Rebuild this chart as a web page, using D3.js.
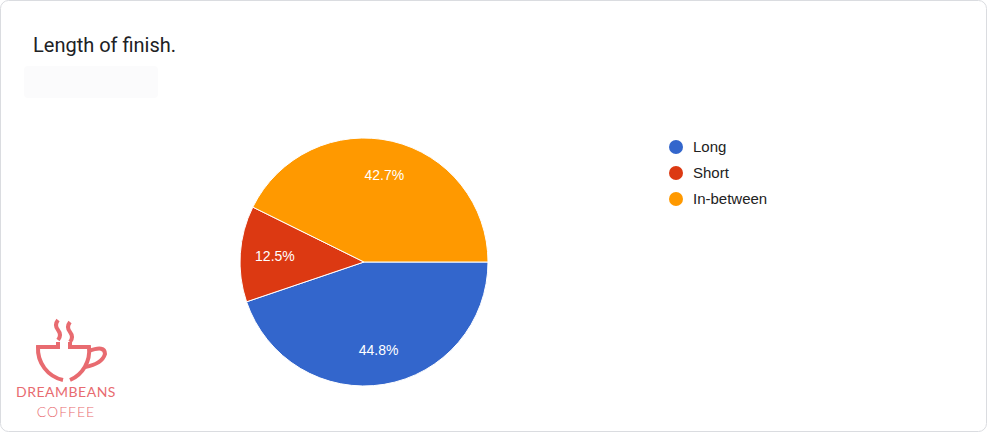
<!DOCTYPE html><html><head><meta charset="utf-8">
<script src="https://cdn.jsdelivr.net/npm/d3@7"></script>
<style>body{margin:0;background:#fff;font-family:Roboto,Arial,sans-serif}</style></head><body>
<svg id="c" width="987" height="432"></svg>
<script>
const categories=["Long","Short","In-between"];
const values=[44.8,12.5,42.7];
const colors=["#3366cc","#dc3912","#ff9900"];
const svg=d3.select("#c");
svg.append("rect").attr("x",0.5).attr("y",0.5).attr("width",986).attr("height",431).attr("rx",8).attr("fill","#fff").attr("stroke","#dadce0");
svg.append("text").attr("x",33).attr("y",52).attr("font-size",20).attr("fill","#202124").text("Length of finish.");
svg.append("rect").attr("x",24).attr("y",66).attr("width",134).attr("height",32).attr("rx",4).attr("fill","#fbfbfc");
const cx=364,cy=262,r=124;
const pie=d3.pie().sort(null).startAngle(Math.PI/2).endAngle(Math.PI/2+2*Math.PI);
const arcs=pie(values);
const arc=d3.arc().innerRadius(0).outerRadius(r);
const g=svg.append("g").attr("transform",`translate(${cx},${cy})`);
g.selectAll("path").data(arcs).join("path").attr("d",arc).attr("fill",(d,i)=>colors[i]).attr("stroke","#fff").attr("stroke-width",1);
const la=d3.arc().innerRadius(r*0.72).outerRadius(r*0.72);
g.selectAll("text").data(arcs).join("text").attr("transform",d=>`translate(${la.centroid(d)})`)
 .attr("text-anchor","middle").attr("dy","0.35em").attr("fill","#fff").attr("font-size",14).attr("font-family","Arial,Liberation Sans,sans-serif").text(d=>d.data.toFixed(1)+"%");
const lg=svg.append("g").attr("transform","translate(676,147)");
categories.forEach((c,i)=>{const y=i*26;lg.append("circle").attr("cx",0).attr("cy",y).attr("r",7).attr("fill",colors[i]);
 lg.append("text").attr("x",17).attr("y",y).attr("dy","0.35em").attr("font-size",15).attr("font-family","Arial,Liberation Sans,sans-serif").attr("fill","#222").text(c);});
const lc="#e86b70";const logo=svg.append("g").attr("fill","none").attr("stroke",lc).attr("stroke-width",4);
logo.append("path").attr("d","M58,320 q-4,5 0,10 q4,5 0,10 M70,322 q-4,5 0,10 q4,5 0,10");
logo.append("path").attr("d","M58,342 v5 H38 a32,32 0 0 0 25,33 M70,342 v5 H89 a32,32 0 0 1 -19,33");
logo.append("path").attr("d","M89,351 q16,-6 16,3 q-3,10 -20,13");
svg.append("text").attr("x",66).attr("y",397).attr("text-anchor","middle").attr("fill",lc).attr("font-size",14).attr("letter-spacing",0.5).attr("font-family","Lato,sans-serif").text("DREAMBEANS");
svg.append("text").attr("x",66).attr("y",417).attr("text-anchor","middle").attr("fill",lc).attr("font-size",14).attr("letter-spacing",1).attr("font-family","Lato,sans-serif").attr("font-weight",300).text("COFFEE");
</script></body></html>
